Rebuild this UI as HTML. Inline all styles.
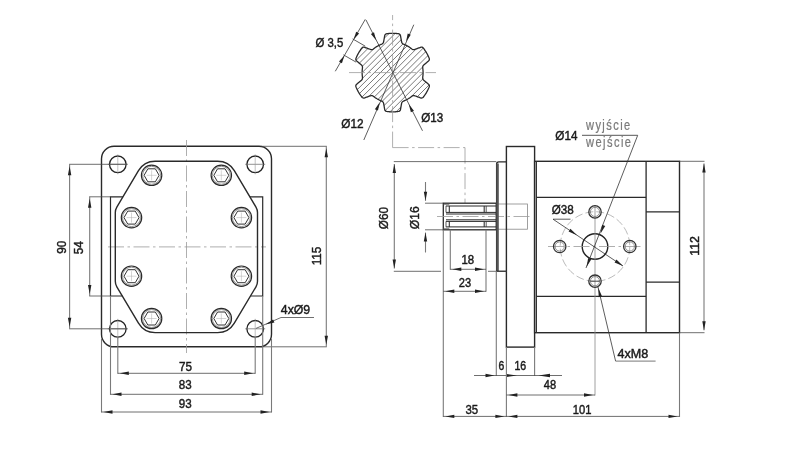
<!DOCTYPE html>
<html><head><meta charset="utf-8"><style>
html,body{margin:0;padding:0;background:#fff;}
svg{display:block;will-change:transform;}
</style></head><body>
<svg width="800" height="450" viewBox="0 0 800 450">
<rect width="800" height="450" fill="#fff"/>
<rect x="101.5" y="146.3" width="170.0" height="200.5" rx="12.5" fill="none" stroke="#2a2a2a" stroke-width="1.4"/>
<line x1="186.50" y1="140.00" x2="186.50" y2="353.00" stroke="#9a9a9a" stroke-width="0.8" stroke-dasharray="16 3.5 2.5 3.5"/>
<line x1="108.00" y1="246.90" x2="266.00" y2="246.90" stroke="#9a9a9a" stroke-width="0.8" stroke-dasharray="16 3.5 2.5 3.5"/>
<circle cx="117.80" cy="164.30" r="8.30" fill="none" stroke="#222" stroke-width="1.3" />
<line x1="107.80" y1="164.30" x2="127.80" y2="164.30" stroke="#666" stroke-width="0.7" />
<line x1="117.80" y1="154.30" x2="117.80" y2="174.30" stroke="#999" stroke-width="0.6" />
<circle cx="117.80" cy="328.80" r="8.30" fill="none" stroke="#222" stroke-width="1.3" />
<line x1="107.80" y1="328.80" x2="127.80" y2="328.80" stroke="#666" stroke-width="0.7" />
<line x1="117.80" y1="318.80" x2="117.80" y2="338.80" stroke="#999" stroke-width="0.6" />
<circle cx="255.20" cy="164.30" r="8.30" fill="none" stroke="#222" stroke-width="1.3" />
<line x1="245.20" y1="164.30" x2="265.20" y2="164.30" stroke="#666" stroke-width="0.7" />
<line x1="255.20" y1="154.30" x2="255.20" y2="174.30" stroke="#999" stroke-width="0.6" />
<circle cx="255.20" cy="328.80" r="8.30" fill="none" stroke="#222" stroke-width="1.3" />
<line x1="245.20" y1="328.80" x2="265.20" y2="328.80" stroke="#666" stroke-width="0.7" />
<line x1="255.20" y1="318.80" x2="255.20" y2="338.80" stroke="#999" stroke-width="0.6" />
<path d="M138.48,170.65 Q144.10,161.20 155.10,161.20 L217.70,161.20 Q228.70,161.20 234.32,170.65 L255.97,207.02 Q257.50,209.60 257.50,212.60 L257.50,281.20 Q257.50,284.20 255.97,286.78 L234.32,323.15 Q228.70,332.60 217.70,332.60 L155.10,332.60 Q144.10,332.60 138.48,323.15 L116.83,286.78 Q115.30,284.20 115.30,281.20 L115.30,212.60 Q115.30,209.60 116.83,207.02 Z" fill="none" stroke="#2a2a2a" stroke-width="1.4"/>
<path d="M122.92,196.8 H110.5 V296.0 H122.32" fill="none" stroke="#2a2a2a" stroke-width="1.2"/>
<path d="M249.88,196.8 H262.7 V296.0 H250.48" fill="none" stroke="#2a2a2a" stroke-width="1.2"/>
<circle cx="151.60" cy="175.30" r="10.20" fill="none" stroke="#2a2a2a" stroke-width="1.2" />
<circle cx="151.60" cy="175.30" r="9.00" fill="none" stroke="#666" stroke-width="0.7" />
<polygon points="159.10,175.30 155.35,181.80 147.85,181.80 144.10,175.30 147.85,168.80 155.35,168.80" fill="none" stroke="#333" stroke-width="1"/>
<line x1="146.60" y1="175.30" x2="156.60" y2="175.30" stroke="#aaa" stroke-width="0.5" />
<line x1="151.60" y1="170.30" x2="151.60" y2="180.30" stroke="#aaa" stroke-width="0.5" />
<circle cx="221.30" cy="175.30" r="10.20" fill="none" stroke="#2a2a2a" stroke-width="1.2" />
<circle cx="221.30" cy="175.30" r="9.00" fill="none" stroke="#666" stroke-width="0.7" />
<polygon points="228.80,175.30 225.05,181.80 217.55,181.80 213.80,175.30 217.55,168.80 225.05,168.80" fill="none" stroke="#333" stroke-width="1"/>
<line x1="216.30" y1="175.30" x2="226.30" y2="175.30" stroke="#aaa" stroke-width="0.5" />
<line x1="221.30" y1="170.30" x2="221.30" y2="180.30" stroke="#aaa" stroke-width="0.5" />
<circle cx="131.50" cy="217.60" r="10.20" fill="none" stroke="#2a2a2a" stroke-width="1.2" />
<circle cx="131.50" cy="217.60" r="9.00" fill="none" stroke="#666" stroke-width="0.7" />
<polygon points="139.00,217.60 135.25,224.10 127.75,224.10 124.00,217.60 127.75,211.10 135.25,211.10" fill="none" stroke="#333" stroke-width="1"/>
<line x1="126.50" y1="217.60" x2="136.50" y2="217.60" stroke="#aaa" stroke-width="0.5" />
<line x1="131.50" y1="212.60" x2="131.50" y2="222.60" stroke="#aaa" stroke-width="0.5" />
<circle cx="241.40" cy="217.60" r="10.20" fill="none" stroke="#2a2a2a" stroke-width="1.2" />
<circle cx="241.40" cy="217.60" r="9.00" fill="none" stroke="#666" stroke-width="0.7" />
<polygon points="248.90,217.60 245.15,224.10 237.65,224.10 233.90,217.60 237.65,211.10 245.15,211.10" fill="none" stroke="#333" stroke-width="1"/>
<line x1="236.40" y1="217.60" x2="246.40" y2="217.60" stroke="#aaa" stroke-width="0.5" />
<line x1="241.40" y1="212.60" x2="241.40" y2="222.60" stroke="#aaa" stroke-width="0.5" />
<circle cx="131.50" cy="276.20" r="10.20" fill="none" stroke="#2a2a2a" stroke-width="1.2" />
<circle cx="131.50" cy="276.20" r="9.00" fill="none" stroke="#666" stroke-width="0.7" />
<polygon points="139.00,276.20 135.25,282.70 127.75,282.70 124.00,276.20 127.75,269.70 135.25,269.70" fill="none" stroke="#333" stroke-width="1"/>
<line x1="126.50" y1="276.20" x2="136.50" y2="276.20" stroke="#aaa" stroke-width="0.5" />
<line x1="131.50" y1="271.20" x2="131.50" y2="281.20" stroke="#aaa" stroke-width="0.5" />
<circle cx="241.40" cy="276.20" r="10.20" fill="none" stroke="#2a2a2a" stroke-width="1.2" />
<circle cx="241.40" cy="276.20" r="9.00" fill="none" stroke="#666" stroke-width="0.7" />
<polygon points="248.90,276.20 245.15,282.70 237.65,282.70 233.90,276.20 237.65,269.70 245.15,269.70" fill="none" stroke="#333" stroke-width="1"/>
<line x1="236.40" y1="276.20" x2="246.40" y2="276.20" stroke="#aaa" stroke-width="0.5" />
<line x1="241.40" y1="271.20" x2="241.40" y2="281.20" stroke="#aaa" stroke-width="0.5" />
<circle cx="151.60" cy="318.50" r="10.20" fill="none" stroke="#2a2a2a" stroke-width="1.2" />
<circle cx="151.60" cy="318.50" r="9.00" fill="none" stroke="#666" stroke-width="0.7" />
<polygon points="159.10,318.50 155.35,325.00 147.85,325.00 144.10,318.50 147.85,312.00 155.35,312.00" fill="none" stroke="#333" stroke-width="1"/>
<line x1="146.60" y1="318.50" x2="156.60" y2="318.50" stroke="#aaa" stroke-width="0.5" />
<line x1="151.60" y1="313.50" x2="151.60" y2="323.50" stroke="#aaa" stroke-width="0.5" />
<circle cx="221.30" cy="318.50" r="10.20" fill="none" stroke="#2a2a2a" stroke-width="1.2" />
<circle cx="221.30" cy="318.50" r="9.00" fill="none" stroke="#666" stroke-width="0.7" />
<polygon points="228.80,318.50 225.05,325.00 217.55,325.00 213.80,318.50 217.55,312.00 225.05,312.00" fill="none" stroke="#333" stroke-width="1"/>
<line x1="216.30" y1="318.50" x2="226.30" y2="318.50" stroke="#aaa" stroke-width="0.5" />
<line x1="221.30" y1="313.50" x2="221.30" y2="323.50" stroke="#aaa" stroke-width="0.5" />
<line x1="69.10" y1="164.30" x2="127.30" y2="164.30" stroke="#4a4a4a" stroke-width="0.8" />
<line x1="69.10" y1="328.80" x2="127.30" y2="328.80" stroke="#4a4a4a" stroke-width="0.8" />
<line x1="69.60" y1="164.30" x2="69.60" y2="328.80" stroke="#7a7a7a" stroke-width="1.1" />
<path d="M69.60,166.30 L71.30,175.30 L67.90,175.30 Z" fill="#222"/>
<path d="M69.60,326.80 L67.90,317.80 L71.30,317.80 Z" fill="#222"/>
<text x="65.60" y="247.20" font-family="Liberation Sans, sans-serif" font-size="13" text-anchor="middle" fill="#1a1a1a" stroke="#1a1a1a" stroke-width="0.45" textLength="13.10" lengthAdjust="spacingAndGlyphs" transform="rotate(-90 65.60 247.20)">90</text>
<line x1="89.20" y1="196.80" x2="110.50" y2="196.80" stroke="#4a4a4a" stroke-width="0.8" />
<line x1="89.20" y1="296.00" x2="110.50" y2="296.00" stroke="#4a4a4a" stroke-width="0.8" />
<line x1="89.70" y1="196.80" x2="89.70" y2="296.00" stroke="#7a7a7a" stroke-width="1.1" />
<path d="M89.70,198.80 L91.40,207.80 L88.00,207.80 Z" fill="#222"/>
<path d="M89.70,294.00 L88.00,285.00 L91.40,285.00 Z" fill="#222"/>
<text x="82.70" y="247.80" font-family="Liberation Sans, sans-serif" font-size="13" text-anchor="middle" fill="#1a1a1a" stroke="#1a1a1a" stroke-width="0.45" textLength="13.10" lengthAdjust="spacingAndGlyphs" transform="rotate(-90 82.70 247.80)">54</text>
<line x1="261.50" y1="146.30" x2="326.80" y2="146.30" stroke="#4a4a4a" stroke-width="0.8" />
<line x1="261.50" y1="346.80" x2="326.80" y2="346.80" stroke="#4a4a4a" stroke-width="0.8" />
<line x1="326.30" y1="146.30" x2="326.30" y2="346.80" stroke="#7a7a7a" stroke-width="1.1" />
<path d="M326.30,148.30 L328.00,157.30 L324.60,157.30 Z" fill="#222"/>
<path d="M326.30,344.80 L324.60,335.80 L328.00,335.80 Z" fill="#222"/>
<text x="321.50" y="256.10" font-family="Liberation Sans, sans-serif" font-size="13" text-anchor="middle" fill="#1a1a1a" stroke="#1a1a1a" stroke-width="0.45" textLength="18.50" lengthAdjust="spacingAndGlyphs" transform="rotate(-90 321.50 256.10)">115</text>
<line x1="117.80" y1="336.80" x2="117.80" y2="373.80" stroke="#7a7a7a" stroke-width="1.1" />
<line x1="255.20" y1="336.80" x2="255.20" y2="373.80" stroke="#7a7a7a" stroke-width="1.1" />
<line x1="117.80" y1="373.30" x2="255.20" y2="373.30" stroke="#4a4a4a" stroke-width="0.8" />
<path d="M119.80,373.30 L128.80,371.60 L128.80,375.00 Z" fill="#222"/>
<path d="M253.20,373.30 L244.20,375.00 L244.20,371.60 Z" fill="#222"/>
<text x="185.40" y="370.60" font-family="Liberation Sans, sans-serif" font-size="13" text-anchor="middle" fill="#1a1a1a" stroke="#1a1a1a" stroke-width="0.45" textLength="13.05" lengthAdjust="spacingAndGlyphs">75</text>
<line x1="110.50" y1="296.00" x2="110.50" y2="394.80" stroke="#7a7a7a" stroke-width="1.1" />
<line x1="262.70" y1="296.00" x2="262.70" y2="394.80" stroke="#7a7a7a" stroke-width="1.1" />
<line x1="110.50" y1="394.30" x2="262.70" y2="394.30" stroke="#4a4a4a" stroke-width="0.8" />
<path d="M112.50,394.30 L121.50,392.60 L121.50,396.00 Z" fill="#222"/>
<path d="M260.70,394.30 L251.70,396.00 L251.70,392.60 Z" fill="#222"/>
<text x="185.20" y="388.80" font-family="Liberation Sans, sans-serif" font-size="13" text-anchor="middle" fill="#1a1a1a" stroke="#1a1a1a" stroke-width="0.45" textLength="12.90" lengthAdjust="spacingAndGlyphs">83</text>
<line x1="101.50" y1="338.80" x2="101.50" y2="412.50" stroke="#7a7a7a" stroke-width="1.1" />
<line x1="271.50" y1="338.80" x2="271.50" y2="412.50" stroke="#7a7a7a" stroke-width="1.1" />
<line x1="101.50" y1="412.00" x2="271.50" y2="412.00" stroke="#4a4a4a" stroke-width="0.8" />
<path d="M103.50,412.00 L112.50,410.30 L112.50,413.70 Z" fill="#222"/>
<path d="M269.50,412.00 L260.50,413.70 L260.50,410.30 Z" fill="#222"/>
<text x="185.20" y="408.00" font-family="Liberation Sans, sans-serif" font-size="13" text-anchor="middle" fill="#1a1a1a" stroke="#1a1a1a" stroke-width="0.45" textLength="12.90" lengthAdjust="spacingAndGlyphs">93</text>
<line x1="256.00" y1="328.40" x2="281.00" y2="317.50" stroke="#4a4a4a" stroke-width="0.8" />
<line x1="281.00" y1="317.50" x2="314.00" y2="317.50" stroke="#4a4a4a" stroke-width="0.8" />
<path d="M265.50,324.60 L273.07,319.44 L274.43,322.56 Z" fill="#222"/>
<text x="295.50" y="314.30" font-family="Liberation Sans, sans-serif" font-size="13" text-anchor="middle" fill="#1a1a1a" stroke="#1a1a1a" stroke-width="0.45" textLength="29.40" lengthAdjust="spacingAndGlyphs">4xØ9</text>
<defs><clipPath id="starclip"><path d="M422.82,66.41 L423.04,65.85 L423.36,65.37 L423.79,64.96 L424.25,64.57 L424.71,64.18 L425.18,63.79 L425.64,63.41 L426.10,63.02 L426.56,62.63 L427.02,62.24 L427.48,61.85 L427.95,61.46 L428.41,61.07 L428.84,60.67 L429.15,60.23 L429.33,59.76 L429.39,59.25 L429.32,58.70 L429.12,58.12 L428.88,57.52 L428.63,56.94 L428.37,56.36 L428.10,55.78 L427.82,55.20 L427.54,54.64 L427.24,54.07 L426.93,53.51 L426.62,52.96 L426.30,52.41 L425.97,51.87 L425.63,51.33 L425.28,50.79 L424.92,50.27 L424.55,49.75 L424.18,49.23 L423.79,48.72 L423.40,48.22 L423.00,47.75 L422.56,47.42 L422.08,47.21 L421.58,47.13 L421.05,47.18 L420.49,47.35 L419.92,47.56 L419.35,47.77 L418.78,47.97 L418.22,48.18 L417.65,48.38 L417.08,48.59 L416.51,48.79 L415.95,49.00 L415.38,49.20 L414.81,49.41 L414.24,49.58 L413.66,49.61 L413.07,49.52 L412.47,49.30 L411.85,48.95 L411.21,48.48 L410.56,47.99 L409.90,47.52 L409.22,47.06 L408.54,46.63 L407.84,46.21 L407.13,45.81 L406.40,45.43 L405.67,45.08 L404.93,44.74 L404.19,44.42 L403.46,44.10 L402.85,43.74 L402.35,43.33 L401.98,42.87 L401.72,42.35 L401.58,41.77 L401.48,41.17 L401.37,40.58 L401.26,39.99 L401.16,39.39 L401.05,38.80 L400.94,38.20 L400.84,37.61 L400.73,37.01 L400.63,36.42 L400.52,35.83 L400.39,35.25 L400.16,34.77 L399.84,34.37 L399.43,34.07 L398.92,33.85 L398.31,33.73 L397.68,33.65 L397.05,33.57 L396.42,33.50 L395.78,33.45 L395.15,33.40 L394.51,33.36 L393.87,33.34 L393.24,33.32 L392.60,33.32 L391.96,33.32 L391.33,33.34 L390.69,33.36 L390.05,33.40 L389.42,33.45 L388.78,33.50 L388.15,33.57 L387.52,33.65 L386.89,33.73 L386.28,33.85 L385.77,34.07 L385.36,34.37 L385.04,34.77 L384.81,35.25 L384.68,35.83 L384.57,36.42 L384.47,37.01 L384.36,37.61 L384.26,38.20 L384.15,38.80 L384.04,39.39 L383.94,39.99 L383.83,40.58 L383.73,41.17 L383.62,41.77 L383.48,42.35 L383.22,42.87 L382.85,43.33 L382.35,43.74 L381.74,44.10 L381.01,44.42 L380.27,44.74 L379.53,45.08 L378.80,45.43 L378.07,45.81 L377.36,46.21 L376.66,46.63 L375.98,47.06 L375.30,47.52 L374.64,47.99 L373.99,48.48 L373.35,48.95 L372.73,49.30 L372.13,49.52 L371.54,49.61 L370.96,49.58 L370.39,49.41 L369.82,49.20 L369.25,49.00 L368.69,48.79 L368.12,48.59 L367.55,48.38 L366.98,48.18 L366.42,47.97 L365.85,47.77 L365.28,47.56 L364.71,47.35 L364.15,47.18 L363.62,47.13 L363.12,47.21 L362.64,47.42 L362.20,47.75 L361.80,48.22 L361.41,48.72 L361.02,49.23 L360.65,49.75 L360.28,50.27 L359.92,50.79 L359.57,51.33 L359.23,51.87 L358.90,52.41 L358.58,52.96 L358.27,53.51 L357.96,54.07 L357.66,54.64 L357.38,55.20 L357.10,55.78 L356.83,56.36 L356.57,56.94 L356.32,57.52 L356.08,58.12 L355.88,58.70 L355.81,59.25 L355.87,59.76 L356.05,60.23 L356.36,60.67 L356.79,61.07 L357.25,61.46 L357.72,61.85 L358.18,62.24 L358.64,62.63 L359.10,63.02 L359.56,63.41 L360.02,63.79 L360.49,64.18 L360.95,64.57 L361.41,64.96 L361.84,65.37 L362.16,65.85 L362.38,66.41 L362.48,67.04 L362.49,67.75 L362.40,68.54 L362.30,69.35 L362.23,70.16 L362.17,70.97 L362.14,71.79 L362.13,72.60 L362.14,73.41 L362.17,74.23 L362.23,75.04 L362.30,75.85 L362.40,76.66 L362.49,77.45 L362.48,78.16 L362.38,78.79 L362.16,79.35 L361.84,79.83 L361.41,80.24 L360.95,80.63 L360.49,81.02 L360.02,81.41 L359.56,81.79 L359.10,82.18 L358.64,82.57 L358.18,82.96 L357.72,83.35 L357.25,83.74 L356.79,84.13 L356.36,84.53 L356.05,84.97 L355.87,85.44 L355.81,85.95 L355.88,86.50 L356.08,87.08 L356.32,87.68 L356.57,88.26 L356.83,88.84 L357.10,89.42 L357.38,90.00 L357.66,90.56 L357.96,91.13 L358.27,91.69 L358.58,92.24 L358.90,92.79 L359.23,93.33 L359.57,93.87 L359.92,94.41 L360.28,94.93 L360.65,95.45 L361.02,95.97 L361.41,96.48 L361.80,96.98 L362.20,97.45 L362.64,97.78 L363.12,97.99 L363.62,98.07 L364.15,98.02 L364.71,97.85 L365.28,97.64 L365.85,97.43 L366.42,97.23 L366.98,97.02 L367.55,96.82 L368.12,96.61 L368.69,96.41 L369.25,96.20 L369.82,96.00 L370.39,95.79 L370.96,95.62 L371.54,95.59 L372.13,95.68 L372.73,95.90 L373.35,96.25 L373.99,96.72 L374.64,97.21 L375.30,97.68 L375.98,98.14 L376.66,98.57 L377.36,98.99 L378.07,99.39 L378.80,99.77 L379.53,100.12 L380.27,100.46 L381.01,100.78 L381.74,101.10 L382.35,101.46 L382.85,101.87 L383.22,102.33 L383.48,102.85 L383.62,103.43 L383.73,104.03 L383.83,104.62 L383.94,105.21 L384.04,105.81 L384.15,106.40 L384.26,107.00 L384.36,107.59 L384.47,108.19 L384.57,108.78 L384.68,109.37 L384.81,109.95 L385.04,110.43 L385.36,110.83 L385.77,111.13 L386.28,111.35 L386.89,111.47 L387.52,111.55 L388.15,111.63 L388.78,111.70 L389.42,111.75 L390.05,111.80 L390.69,111.84 L391.33,111.86 L391.96,111.88 L392.60,111.88 L393.24,111.88 L393.87,111.86 L394.51,111.84 L395.15,111.80 L395.78,111.75 L396.42,111.70 L397.05,111.63 L397.68,111.55 L398.31,111.47 L398.92,111.35 L399.43,111.13 L399.84,110.83 L400.16,110.43 L400.39,109.95 L400.52,109.37 L400.63,108.78 L400.73,108.19 L400.84,107.59 L400.94,107.00 L401.05,106.40 L401.16,105.81 L401.26,105.21 L401.37,104.62 L401.48,104.03 L401.58,103.43 L401.72,102.85 L401.98,102.33 L402.35,101.87 L402.85,101.46 L403.46,101.10 L404.19,100.78 L404.93,100.46 L405.67,100.12 L406.40,99.77 L407.13,99.39 L407.84,98.99 L408.54,98.57 L409.22,98.14 L409.90,97.68 L410.56,97.21 L411.21,96.72 L411.85,96.25 L412.47,95.90 L413.07,95.68 L413.66,95.59 L414.24,95.62 L414.81,95.79 L415.38,96.00 L415.95,96.20 L416.51,96.41 L417.08,96.61 L417.65,96.82 L418.22,97.02 L418.78,97.23 L419.35,97.43 L419.92,97.64 L420.49,97.85 L421.05,98.02 L421.58,98.07 L422.08,97.99 L422.56,97.78 L423.00,97.45 L423.40,96.98 L423.79,96.48 L424.18,95.97 L424.55,95.45 L424.92,94.93 L425.28,94.41 L425.63,93.87 L425.97,93.33 L426.30,92.79 L426.62,92.24 L426.93,91.69 L427.24,91.13 L427.54,90.56 L427.82,90.00 L428.10,89.42 L428.37,88.84 L428.63,88.26 L428.88,87.68 L429.12,87.08 L429.32,86.50 L429.39,85.95 L429.33,85.44 L429.15,84.97 L428.84,84.53 L428.41,84.13 L427.95,83.74 L427.48,83.35 L427.02,82.96 L426.56,82.57 L426.10,82.18 L425.64,81.79 L425.18,81.41 L424.71,81.02 L424.25,80.63 L423.79,80.24 L423.36,79.83 L423.04,79.35 L422.82,78.79 L422.72,78.16 L422.71,77.45 L422.80,76.66 L422.90,75.85 L422.97,75.04 L423.03,74.23 L423.06,73.41 L423.07,72.60 L423.06,71.79 L423.03,70.97 L422.97,70.16 L422.90,69.35 L422.80,68.54 L422.71,67.75 L422.72,67.04 Z"/></clipPath></defs>
<path d="M225.60,117.60 L315.60,27.60 M231.70,117.60 L321.70,27.60 M237.80,117.60 L327.80,27.60 M243.90,117.60 L333.90,27.60 M250.00,117.60 L340.00,27.60 M256.10,117.60 L346.10,27.60 M262.20,117.60 L352.20,27.60 M268.30,117.60 L358.30,27.60 M274.40,117.60 L364.40,27.60 M280.50,117.60 L370.50,27.60 M286.60,117.60 L376.60,27.60 M292.70,117.60 L382.70,27.60 M298.80,117.60 L388.80,27.60 M304.90,117.60 L394.90,27.60 M311.00,117.60 L401.00,27.60 M317.10,117.60 L407.10,27.60 M323.20,117.60 L413.20,27.60 M329.30,117.60 L419.30,27.60 M335.40,117.60 L425.40,27.60 M341.50,117.60 L431.50,27.60 M347.60,117.60 L437.60,27.60 M353.70,117.60 L443.70,27.60 M359.80,117.60 L449.80,27.60 M365.90,117.60 L455.90,27.60 M372.00,117.60 L462.00,27.60 M378.10,117.60 L468.10,27.60 M384.20,117.60 L474.20,27.60 M390.30,117.60 L480.30,27.60 M396.40,117.60 L486.40,27.60 M402.50,117.60 L492.50,27.60 M408.60,117.60 L498.60,27.60 M414.70,117.60 L504.70,27.60 M420.80,117.60 L510.80,27.60 M426.90,117.60 L516.90,27.60 M433.00,117.60 L523.00,27.60 M439.10,117.60 L529.10,27.60 M445.20,117.60 L535.20,27.60 M451.30,117.60 L541.30,27.60 M457.40,117.60 L547.40,27.60 M463.50,117.60 L553.50,27.60 M469.60,117.60 L559.60,27.60" stroke="#555" stroke-width="0.8" fill="none" clip-path="url(#starclip)"/>
<path d="M422.82,66.41 L423.04,65.85 L423.36,65.37 L423.79,64.96 L424.25,64.57 L424.71,64.18 L425.18,63.79 L425.64,63.41 L426.10,63.02 L426.56,62.63 L427.02,62.24 L427.48,61.85 L427.95,61.46 L428.41,61.07 L428.84,60.67 L429.15,60.23 L429.33,59.76 L429.39,59.25 L429.32,58.70 L429.12,58.12 L428.88,57.52 L428.63,56.94 L428.37,56.36 L428.10,55.78 L427.82,55.20 L427.54,54.64 L427.24,54.07 L426.93,53.51 L426.62,52.96 L426.30,52.41 L425.97,51.87 L425.63,51.33 L425.28,50.79 L424.92,50.27 L424.55,49.75 L424.18,49.23 L423.79,48.72 L423.40,48.22 L423.00,47.75 L422.56,47.42 L422.08,47.21 L421.58,47.13 L421.05,47.18 L420.49,47.35 L419.92,47.56 L419.35,47.77 L418.78,47.97 L418.22,48.18 L417.65,48.38 L417.08,48.59 L416.51,48.79 L415.95,49.00 L415.38,49.20 L414.81,49.41 L414.24,49.58 L413.66,49.61 L413.07,49.52 L412.47,49.30 L411.85,48.95 L411.21,48.48 L410.56,47.99 L409.90,47.52 L409.22,47.06 L408.54,46.63 L407.84,46.21 L407.13,45.81 L406.40,45.43 L405.67,45.08 L404.93,44.74 L404.19,44.42 L403.46,44.10 L402.85,43.74 L402.35,43.33 L401.98,42.87 L401.72,42.35 L401.58,41.77 L401.48,41.17 L401.37,40.58 L401.26,39.99 L401.16,39.39 L401.05,38.80 L400.94,38.20 L400.84,37.61 L400.73,37.01 L400.63,36.42 L400.52,35.83 L400.39,35.25 L400.16,34.77 L399.84,34.37 L399.43,34.07 L398.92,33.85 L398.31,33.73 L397.68,33.65 L397.05,33.57 L396.42,33.50 L395.78,33.45 L395.15,33.40 L394.51,33.36 L393.87,33.34 L393.24,33.32 L392.60,33.32 L391.96,33.32 L391.33,33.34 L390.69,33.36 L390.05,33.40 L389.42,33.45 L388.78,33.50 L388.15,33.57 L387.52,33.65 L386.89,33.73 L386.28,33.85 L385.77,34.07 L385.36,34.37 L385.04,34.77 L384.81,35.25 L384.68,35.83 L384.57,36.42 L384.47,37.01 L384.36,37.61 L384.26,38.20 L384.15,38.80 L384.04,39.39 L383.94,39.99 L383.83,40.58 L383.73,41.17 L383.62,41.77 L383.48,42.35 L383.22,42.87 L382.85,43.33 L382.35,43.74 L381.74,44.10 L381.01,44.42 L380.27,44.74 L379.53,45.08 L378.80,45.43 L378.07,45.81 L377.36,46.21 L376.66,46.63 L375.98,47.06 L375.30,47.52 L374.64,47.99 L373.99,48.48 L373.35,48.95 L372.73,49.30 L372.13,49.52 L371.54,49.61 L370.96,49.58 L370.39,49.41 L369.82,49.20 L369.25,49.00 L368.69,48.79 L368.12,48.59 L367.55,48.38 L366.98,48.18 L366.42,47.97 L365.85,47.77 L365.28,47.56 L364.71,47.35 L364.15,47.18 L363.62,47.13 L363.12,47.21 L362.64,47.42 L362.20,47.75 L361.80,48.22 L361.41,48.72 L361.02,49.23 L360.65,49.75 L360.28,50.27 L359.92,50.79 L359.57,51.33 L359.23,51.87 L358.90,52.41 L358.58,52.96 L358.27,53.51 L357.96,54.07 L357.66,54.64 L357.38,55.20 L357.10,55.78 L356.83,56.36 L356.57,56.94 L356.32,57.52 L356.08,58.12 L355.88,58.70 L355.81,59.25 L355.87,59.76 L356.05,60.23 L356.36,60.67 L356.79,61.07 L357.25,61.46 L357.72,61.85 L358.18,62.24 L358.64,62.63 L359.10,63.02 L359.56,63.41 L360.02,63.79 L360.49,64.18 L360.95,64.57 L361.41,64.96 L361.84,65.37 L362.16,65.85 L362.38,66.41 L362.48,67.04 L362.49,67.75 L362.40,68.54 L362.30,69.35 L362.23,70.16 L362.17,70.97 L362.14,71.79 L362.13,72.60 L362.14,73.41 L362.17,74.23 L362.23,75.04 L362.30,75.85 L362.40,76.66 L362.49,77.45 L362.48,78.16 L362.38,78.79 L362.16,79.35 L361.84,79.83 L361.41,80.24 L360.95,80.63 L360.49,81.02 L360.02,81.41 L359.56,81.79 L359.10,82.18 L358.64,82.57 L358.18,82.96 L357.72,83.35 L357.25,83.74 L356.79,84.13 L356.36,84.53 L356.05,84.97 L355.87,85.44 L355.81,85.95 L355.88,86.50 L356.08,87.08 L356.32,87.68 L356.57,88.26 L356.83,88.84 L357.10,89.42 L357.38,90.00 L357.66,90.56 L357.96,91.13 L358.27,91.69 L358.58,92.24 L358.90,92.79 L359.23,93.33 L359.57,93.87 L359.92,94.41 L360.28,94.93 L360.65,95.45 L361.02,95.97 L361.41,96.48 L361.80,96.98 L362.20,97.45 L362.64,97.78 L363.12,97.99 L363.62,98.07 L364.15,98.02 L364.71,97.85 L365.28,97.64 L365.85,97.43 L366.42,97.23 L366.98,97.02 L367.55,96.82 L368.12,96.61 L368.69,96.41 L369.25,96.20 L369.82,96.00 L370.39,95.79 L370.96,95.62 L371.54,95.59 L372.13,95.68 L372.73,95.90 L373.35,96.25 L373.99,96.72 L374.64,97.21 L375.30,97.68 L375.98,98.14 L376.66,98.57 L377.36,98.99 L378.07,99.39 L378.80,99.77 L379.53,100.12 L380.27,100.46 L381.01,100.78 L381.74,101.10 L382.35,101.46 L382.85,101.87 L383.22,102.33 L383.48,102.85 L383.62,103.43 L383.73,104.03 L383.83,104.62 L383.94,105.21 L384.04,105.81 L384.15,106.40 L384.26,107.00 L384.36,107.59 L384.47,108.19 L384.57,108.78 L384.68,109.37 L384.81,109.95 L385.04,110.43 L385.36,110.83 L385.77,111.13 L386.28,111.35 L386.89,111.47 L387.52,111.55 L388.15,111.63 L388.78,111.70 L389.42,111.75 L390.05,111.80 L390.69,111.84 L391.33,111.86 L391.96,111.88 L392.60,111.88 L393.24,111.88 L393.87,111.86 L394.51,111.84 L395.15,111.80 L395.78,111.75 L396.42,111.70 L397.05,111.63 L397.68,111.55 L398.31,111.47 L398.92,111.35 L399.43,111.13 L399.84,110.83 L400.16,110.43 L400.39,109.95 L400.52,109.37 L400.63,108.78 L400.73,108.19 L400.84,107.59 L400.94,107.00 L401.05,106.40 L401.16,105.81 L401.26,105.21 L401.37,104.62 L401.48,104.03 L401.58,103.43 L401.72,102.85 L401.98,102.33 L402.35,101.87 L402.85,101.46 L403.46,101.10 L404.19,100.78 L404.93,100.46 L405.67,100.12 L406.40,99.77 L407.13,99.39 L407.84,98.99 L408.54,98.57 L409.22,98.14 L409.90,97.68 L410.56,97.21 L411.21,96.72 L411.85,96.25 L412.47,95.90 L413.07,95.68 L413.66,95.59 L414.24,95.62 L414.81,95.79 L415.38,96.00 L415.95,96.20 L416.51,96.41 L417.08,96.61 L417.65,96.82 L418.22,97.02 L418.78,97.23 L419.35,97.43 L419.92,97.64 L420.49,97.85 L421.05,98.02 L421.58,98.07 L422.08,97.99 L422.56,97.78 L423.00,97.45 L423.40,96.98 L423.79,96.48 L424.18,95.97 L424.55,95.45 L424.92,94.93 L425.28,94.41 L425.63,93.87 L425.97,93.33 L426.30,92.79 L426.62,92.24 L426.93,91.69 L427.24,91.13 L427.54,90.56 L427.82,90.00 L428.10,89.42 L428.37,88.84 L428.63,88.26 L428.88,87.68 L429.12,87.08 L429.32,86.50 L429.39,85.95 L429.33,85.44 L429.15,84.97 L428.84,84.53 L428.41,84.13 L427.95,83.74 L427.48,83.35 L427.02,82.96 L426.56,82.57 L426.10,82.18 L425.64,81.79 L425.18,81.41 L424.71,81.02 L424.25,80.63 L423.79,80.24 L423.36,79.83 L423.04,79.35 L422.82,78.79 L422.72,78.16 L422.71,77.45 L422.80,76.66 L422.90,75.85 L422.97,75.04 L423.03,74.23 L423.06,73.41 L423.07,72.60 L423.06,71.79 L423.03,70.97 L422.97,70.16 L422.90,69.35 L422.80,68.54 L422.71,67.75 L422.72,67.04 Z" fill="none" stroke="#2a2a2a" stroke-width="1.3"/>
<line x1="349.00" y1="72.60" x2="436.00" y2="72.60" stroke="#9a9a9a" stroke-width="0.8" stroke-dasharray="16 3.5 2.5 3.5"/>
<line x1="392.60" y1="147.60" x2="392.60" y2="15.00" stroke="#9a9a9a" stroke-width="0.8" stroke-dasharray="16 3.5 2.5 3.5"/>
<line x1="392.60" y1="147.60" x2="465.00" y2="147.60" stroke="#9a9a9a" stroke-width="0.8" stroke-dasharray="16 3.5 2.5 3.5"/>
<line x1="465.00" y1="147.60" x2="465.00" y2="203.00" stroke="#9a9a9a" stroke-width="0.8" stroke-dasharray="16 3.5 2.5 3.5"/>
<line x1="366.00" y1="20.00" x2="422.50" y2="130.80" stroke="#333" stroke-width="0.8" />
<path d="M376.11,40.26 L370.96,33.91 L373.99,32.36 Z" fill="#222"/>
<path d="M408.77,104.31 L413.92,110.67 L410.89,112.21 Z" fill="#222"/>
<text x="432.20" y="122.10" font-family="Liberation Sans, sans-serif" font-size="13" text-anchor="middle" fill="#1a1a1a" stroke="#1a1a1a" stroke-width="0.45" textLength="22.00" lengthAdjust="spacingAndGlyphs">Ø13</text>
<line x1="413.80" y1="24.70" x2="363.80" y2="140.00" stroke="#333" stroke-width="0.8" />
<path d="M406.09,41.50 L407.71,33.48 L410.83,34.84 Z" fill="#222"/>
<path d="M379.59,102.60 L377.97,110.62 L374.85,109.26 Z" fill="#222"/>
<text x="352.50" y="127.60" font-family="Liberation Sans, sans-serif" font-size="13" text-anchor="middle" fill="#1a1a1a" stroke="#1a1a1a" stroke-width="0.45" textLength="22.30" lengthAdjust="spacingAndGlyphs">Ø12</text>
<line x1="365.33" y1="46.23" x2="352.60" y2="38.88" stroke="#333" stroke-width="0.8" />
<line x1="356.13" y1="62.17" x2="343.40" y2="54.82" stroke="#333" stroke-width="0.8" />
<line x1="335.29" y1="71.27" x2="365.29" y2="19.31" stroke="#333" stroke-width="0.8" />
<path d="M353.64,39.48 L356.17,31.70 L359.11,33.40 Z" fill="#222"/>
<path d="M344.44,55.42 L341.91,63.20 L338.97,61.50 Z" fill="#222"/>
<text x="329.40" y="47.00" font-family="Liberation Sans, sans-serif" font-size="13" text-anchor="middle" fill="#1a1a1a" stroke="#1a1a1a" stroke-width="0.45" textLength="27.80" lengthAdjust="spacingAndGlyphs">Ø 3,5</text>
<rect x="496.3" y="204" width="31.2" height="25.2" fill="none" stroke="#888" stroke-width="0.8"/>
<rect x="443.3" y="203.2" width="53.0" height="26.600000000000023" fill="none" stroke="#2a2a2a" stroke-width="1.3"/>
<line x1="446.00" y1="206.00" x2="496.30" y2="206.00" stroke="#2a2a2a" stroke-width="1.0" />
<line x1="446.00" y1="212.40" x2="496.30" y2="212.40" stroke="#2a2a2a" stroke-width="1.0" />
<line x1="446.00" y1="214.00" x2="496.30" y2="214.00" stroke="#2a2a2a" stroke-width="1.0" />
<line x1="446.00" y1="219.80" x2="496.30" y2="219.80" stroke="#2a2a2a" stroke-width="1.0" />
<line x1="446.00" y1="221.40" x2="496.30" y2="221.40" stroke="#2a2a2a" stroke-width="1.0" />
<line x1="446.00" y1="226.90" x2="496.30" y2="226.90" stroke="#2a2a2a" stroke-width="1.0" />
<line x1="446.00" y1="206.00" x2="446.00" y2="212.40" stroke="#333" stroke-width="0.8" />
<line x1="449.30" y1="206.00" x2="449.30" y2="212.40" stroke="#333" stroke-width="1.1" />
<line x1="484.20" y1="206.00" x2="484.20" y2="212.40" stroke="#333" stroke-width="1.1" />
<line x1="486.20" y1="206.00" x2="486.20" y2="212.40" stroke="#333" stroke-width="0.8" />
<line x1="446.00" y1="221.40" x2="446.00" y2="226.90" stroke="#333" stroke-width="0.8" />
<line x1="449.30" y1="221.40" x2="449.30" y2="226.90" stroke="#333" stroke-width="1.1" />
<line x1="484.20" y1="221.40" x2="484.20" y2="226.90" stroke="#333" stroke-width="1.1" />
<line x1="486.20" y1="221.40" x2="486.20" y2="226.90" stroke="#333" stroke-width="0.8" />
<line x1="443.30" y1="204.60" x2="449.30" y2="204.60" stroke="#555" stroke-width="0.7" />
<line x1="443.30" y1="228.40" x2="449.30" y2="228.40" stroke="#555" stroke-width="0.7" />
<line x1="437.00" y1="216.50" x2="530.00" y2="216.50" stroke="#9a9a9a" stroke-width="0.8" stroke-dasharray="16 3.5 2.5 3.5"/>
<path d="M506.4,161.8 H498.8 Q496.6,161.8 496.6,164 V271.2" fill="none" stroke="#2a2a2a" stroke-width="1.3"/>
<line x1="497.60" y1="163.50" x2="497.60" y2="271.00" stroke="#555" stroke-width="2.4" />
<line x1="496.30" y1="271.30" x2="506.40" y2="271.30" stroke="#2a2a2a" stroke-width="1.3" />
<rect x="506.4" y="146.5" width="28.2" height="200.6" fill="none" stroke="#2a2a2a" stroke-width="1.4"/>
<rect x="534.6" y="161.3" width="144.9" height="171.4" fill="none" stroke="#2a2a2a" stroke-width="1.4"/>
<line x1="536.50" y1="161.30" x2="536.50" y2="332.70" stroke="#333" stroke-width="1.0" />
<line x1="646.10" y1="161.30" x2="646.10" y2="332.70" stroke="#2a2a2a" stroke-width="1.3" />
<line x1="536.50" y1="197.40" x2="646.10" y2="197.40" stroke="#2a2a2a" stroke-width="1.3" />
<line x1="536.50" y1="296.40" x2="646.10" y2="296.40" stroke="#2a2a2a" stroke-width="1.3" />
<line x1="646.10" y1="211.90" x2="679.50" y2="211.90" stroke="#2a2a2a" stroke-width="1.3" />
<line x1="646.10" y1="282.20" x2="679.50" y2="282.20" stroke="#2a2a2a" stroke-width="1.3" />
<circle cx="595.00" cy="246.50" r="34.80" fill="none" stroke="#aaa" stroke-width="0.8" stroke-dasharray="8 3"/>
<circle cx="595.00" cy="246.50" r="12.80" fill="none" stroke="#222" stroke-width="1.4" />
<line x1="548.00" y1="246.50" x2="642.00" y2="246.50" stroke="#9a9a9a" stroke-width="0.8" stroke-dasharray="16 3.5 2.5 3.5"/>
<line x1="595.00" y1="205.00" x2="595.00" y2="395.50" stroke="#888" stroke-width="0.8" />
<circle cx="595.00" cy="211.90" r="6.20" fill="none" stroke="#333" stroke-width="1.3" />
<circle cx="595.00" cy="211.90" r="4.60" fill="none" stroke="#666" stroke-width="0.7" />
<circle cx="559.70" cy="246.50" r="6.20" fill="none" stroke="#333" stroke-width="1.3" />
<circle cx="559.70" cy="246.50" r="4.60" fill="none" stroke="#666" stroke-width="0.7" />
<circle cx="629.80" cy="246.50" r="6.20" fill="none" stroke="#333" stroke-width="1.3" />
<circle cx="629.80" cy="246.50" r="4.60" fill="none" stroke="#666" stroke-width="0.7" />
<circle cx="595.00" cy="281.20" r="6.20" fill="none" stroke="#333" stroke-width="1.3" />
<circle cx="595.00" cy="281.20" r="4.60" fill="none" stroke="#666" stroke-width="0.7" />
<line x1="590.40" y1="281.20" x2="599.60" y2="281.20" stroke="#333" stroke-width="0.9" />
<line x1="553.00" y1="219.20" x2="570.50" y2="219.20" stroke="#333" stroke-width="0.8" />
<line x1="553.00" y1="219.20" x2="623.00" y2="266.00" stroke="#333" stroke-width="0.8" />
<path d="M577.00,235.20 L568.57,231.61 L570.46,228.78 Z" fill="#222"/>
<path d="M623.00,266.00 L614.57,262.41 L616.46,259.58 Z" fill="#222"/>
<text x="562.80" y="214.40" font-family="Liberation Sans, sans-serif" font-size="13" text-anchor="middle" fill="#1a1a1a" stroke="#1a1a1a" stroke-width="0.45" textLength="22.00" lengthAdjust="spacingAndGlyphs">Ø38</text>
<line x1="637.70" y1="135.30" x2="586.00" y2="268.00" stroke="#333" stroke-width="0.8" />
<path d="M600.40,233.80 L602.08,224.80 L605.25,226.03 Z" fill="#222"/>
<path d="M586.50,267.00 L588.18,258.00 L591.35,259.23 Z" fill="#222"/>
<line x1="582.00" y1="135.30" x2="637.70" y2="135.30" stroke="#444" stroke-width="0.9" />
<text x="566.40" y="139.50" font-family="Liberation Sans, sans-serif" font-size="13" text-anchor="middle" fill="#1a1a1a" stroke="#1a1a1a" stroke-width="0.45" textLength="22.10" lengthAdjust="spacingAndGlyphs">Ø14</text>
<text transform="translate(586,130.4) scale(0.74,1)" x="0" y="0" font-family="Liberation Sans, sans-serif" font-size="15" fill="#7a7a7a" stroke="#7a7a7a" stroke-width="0.25" textLength="59.73" lengthAdjust="spacing">wyjście</text>
<text transform="translate(586,147.4) scale(0.74,1)" x="0" y="0" font-family="Liberation Sans, sans-serif" font-size="15" fill="#7a7a7a" stroke="#7a7a7a" stroke-width="0.25" textLength="60.81" lengthAdjust="spacing">wejście</text>
<line x1="598.00" y1="287.00" x2="615.60" y2="361.10" stroke="#333" stroke-width="0.8" />
<path d="M598.30,288.00 L602.03,296.36 L598.73,297.15 Z" fill="#222"/>
<line x1="615.60" y1="361.10" x2="655.60" y2="361.10" stroke="#555" stroke-width="0.8" />
<text x="632.90" y="357.70" font-family="Liberation Sans, sans-serif" font-size="13" text-anchor="middle" fill="#1a1a1a" stroke="#1a1a1a" stroke-width="0.45" textLength="30.70" lengthAdjust="spacingAndGlyphs">4xM8</text>
<line x1="393.80" y1="161.60" x2="496.30" y2="161.60" stroke="#4a4a4a" stroke-width="0.8" />
<line x1="393.80" y1="271.30" x2="441.00" y2="271.30" stroke="#4a4a4a" stroke-width="0.8" />
<line x1="488.00" y1="271.30" x2="506.40" y2="271.30" stroke="#4a4a4a" stroke-width="0.8" />
<line x1="394.30" y1="164.00" x2="394.30" y2="268.50" stroke="#7a7a7a" stroke-width="1.1" />
<path d="M394.30,164.00 L396.00,173.00 L392.60,173.00 Z" fill="#222"/>
<path d="M394.30,268.50 L392.60,259.50 L396.00,259.50 Z" fill="#222"/>
<text x="387.70" y="218.00" font-family="Liberation Sans, sans-serif" font-size="13" text-anchor="middle" fill="#1a1a1a" stroke="#1a1a1a" stroke-width="0.45" textLength="22.30" lengthAdjust="spacingAndGlyphs" transform="rotate(-90 387.70 218.00)">Ø60</text>
<line x1="425.00" y1="203.20" x2="443.30" y2="203.20" stroke="#4a4a4a" stroke-width="0.8" />
<line x1="425.00" y1="229.80" x2="443.30" y2="229.80" stroke="#4a4a4a" stroke-width="0.8" />
<line x1="425.50" y1="182.00" x2="425.50" y2="200.80" stroke="#7a7a7a" stroke-width="1.1" />
<line x1="425.50" y1="232.60" x2="425.50" y2="252.50" stroke="#7a7a7a" stroke-width="1.1" />
<path d="M425.50,200.80 L423.80,191.80 L427.20,191.80 Z" fill="#222"/>
<path d="M425.50,232.60 L427.20,241.60 L423.80,241.60 Z" fill="#222"/>
<text x="419.20" y="217.75" font-family="Liberation Sans, sans-serif" font-size="13" text-anchor="middle" fill="#1a1a1a" stroke="#1a1a1a" stroke-width="0.45" textLength="22.80" lengthAdjust="spacingAndGlyphs" transform="rotate(-90 419.20 217.75)">Ø16</text>
<line x1="450.30" y1="229.80" x2="450.30" y2="269.80" stroke="#7a7a7a" stroke-width="1.1" />
<line x1="486.00" y1="229.80" x2="486.00" y2="291.80" stroke="#7a7a7a" stroke-width="1.1" />
<line x1="450.30" y1="269.30" x2="486.00" y2="269.30" stroke="#4a4a4a" stroke-width="0.8" />
<path d="M452.30,269.30 L461.30,267.60 L461.30,271.00 Z" fill="#222"/>
<path d="M484.00,269.30 L475.00,271.00 L475.00,267.60 Z" fill="#222"/>
<text x="467.80" y="264.10" font-family="Liberation Sans, sans-serif" font-size="13" text-anchor="middle" fill="#1a1a1a" stroke="#1a1a1a" stroke-width="0.45" textLength="12.70" lengthAdjust="spacingAndGlyphs">18</text>
<line x1="443.30" y1="229.80" x2="443.30" y2="416.90" stroke="#7a7a7a" stroke-width="1.1" />
<line x1="443.30" y1="291.30" x2="486.00" y2="291.30" stroke="#4a4a4a" stroke-width="0.8" />
<path d="M445.30,291.30 L454.30,289.60 L454.30,293.00 Z" fill="#222"/>
<path d="M484.00,291.30 L475.00,293.00 L475.00,289.60 Z" fill="#222"/>
<text x="464.90" y="287.30" font-family="Liberation Sans, sans-serif" font-size="13" text-anchor="middle" fill="#1a1a1a" stroke="#1a1a1a" stroke-width="0.45" textLength="12.30" lengthAdjust="spacingAndGlyphs">23</text>
<line x1="496.30" y1="271.30" x2="496.30" y2="376.00" stroke="#7a7a7a" stroke-width="1.1" />
<line x1="534.60" y1="347.00" x2="534.60" y2="376.00" stroke="#7a7a7a" stroke-width="1.1" />
<line x1="474.00" y1="375.50" x2="562.00" y2="375.50" stroke="#4a4a4a" stroke-width="0.8" />
<path d="M494.50,375.50 L485.50,377.20 L485.50,373.80 Z" fill="#222"/>
<path d="M517.00,375.50 L506.50,376.90 L506.50,374.10 Z" fill="#222"/>
<path d="M538.50,375.50 L550.00,373.80 L550.00,377.20 Z" fill="#222"/>
<text x="501.30" y="370.20" font-family="Liberation Sans, sans-serif" font-size="13" text-anchor="middle" fill="#1a1a1a" stroke="#1a1a1a" stroke-width="0.45" textLength="5.80" lengthAdjust="spacingAndGlyphs">6</text>
<text x="520.30" y="370.20" font-family="Liberation Sans, sans-serif" font-size="13" text-anchor="middle" fill="#1a1a1a" stroke="#1a1a1a" stroke-width="0.45" textLength="11.80" lengthAdjust="spacingAndGlyphs">16</text>
<line x1="506.40" y1="347.00" x2="506.40" y2="416.90" stroke="#7a7a7a" stroke-width="1.1" />
<line x1="506.40" y1="395.00" x2="595.00" y2="395.00" stroke="#4a4a4a" stroke-width="0.8" />
<path d="M508.40,395.00 L517.40,393.30 L517.40,396.70 Z" fill="#222"/>
<path d="M593.00,395.00 L584.00,396.70 L584.00,393.30 Z" fill="#222"/>
<text x="550.00" y="389.20" font-family="Liberation Sans, sans-serif" font-size="13" text-anchor="middle" fill="#1a1a1a" stroke="#1a1a1a" stroke-width="0.45" textLength="12.30" lengthAdjust="spacingAndGlyphs">48</text>
<line x1="443.30" y1="416.40" x2="506.40" y2="416.40" stroke="#4a4a4a" stroke-width="0.8" />
<path d="M445.30,416.40 L454.30,414.70 L454.30,418.10 Z" fill="#222"/>
<path d="M504.40,416.40 L495.40,418.10 L495.40,414.70 Z" fill="#222"/>
<text x="471.80" y="414.40" font-family="Liberation Sans, sans-serif" font-size="13" text-anchor="middle" fill="#1a1a1a" stroke="#1a1a1a" stroke-width="0.45" textLength="12.70" lengthAdjust="spacingAndGlyphs">35</text>
<line x1="679.50" y1="332.70" x2="679.50" y2="416.90" stroke="#7a7a7a" stroke-width="1.1" />
<line x1="506.40" y1="416.40" x2="679.50" y2="416.40" stroke="#4a4a4a" stroke-width="0.8" />
<path d="M508.40,416.40 L517.40,414.70 L517.40,418.10 Z" fill="#222"/>
<path d="M677.50,416.40 L668.50,418.10 L668.50,414.70 Z" fill="#222"/>
<text x="582.10" y="413.60" font-family="Liberation Sans, sans-serif" font-size="13" text-anchor="middle" fill="#1a1a1a" stroke="#1a1a1a" stroke-width="0.45" textLength="18.70" lengthAdjust="spacingAndGlyphs">101</text>
<line x1="679.50" y1="161.30" x2="704.50" y2="161.30" stroke="#4a4a4a" stroke-width="0.8" />
<line x1="679.50" y1="332.70" x2="704.50" y2="332.70" stroke="#4a4a4a" stroke-width="0.8" />
<line x1="704.00" y1="163.50" x2="704.00" y2="330.20" stroke="#7a7a7a" stroke-width="1.1" />
<path d="M704.00,163.50 L705.70,172.50 L702.30,172.50 Z" fill="#222"/>
<path d="M704.00,330.20 L702.30,321.20 L705.70,321.20 Z" fill="#222"/>
<text x="698.80" y="245.90" font-family="Liberation Sans, sans-serif" font-size="13" text-anchor="middle" fill="#1a1a1a" stroke="#1a1a1a" stroke-width="0.45" textLength="19.80" lengthAdjust="spacingAndGlyphs" transform="rotate(-90 698.80 245.90)">112</text>
</svg>
</body></html>
